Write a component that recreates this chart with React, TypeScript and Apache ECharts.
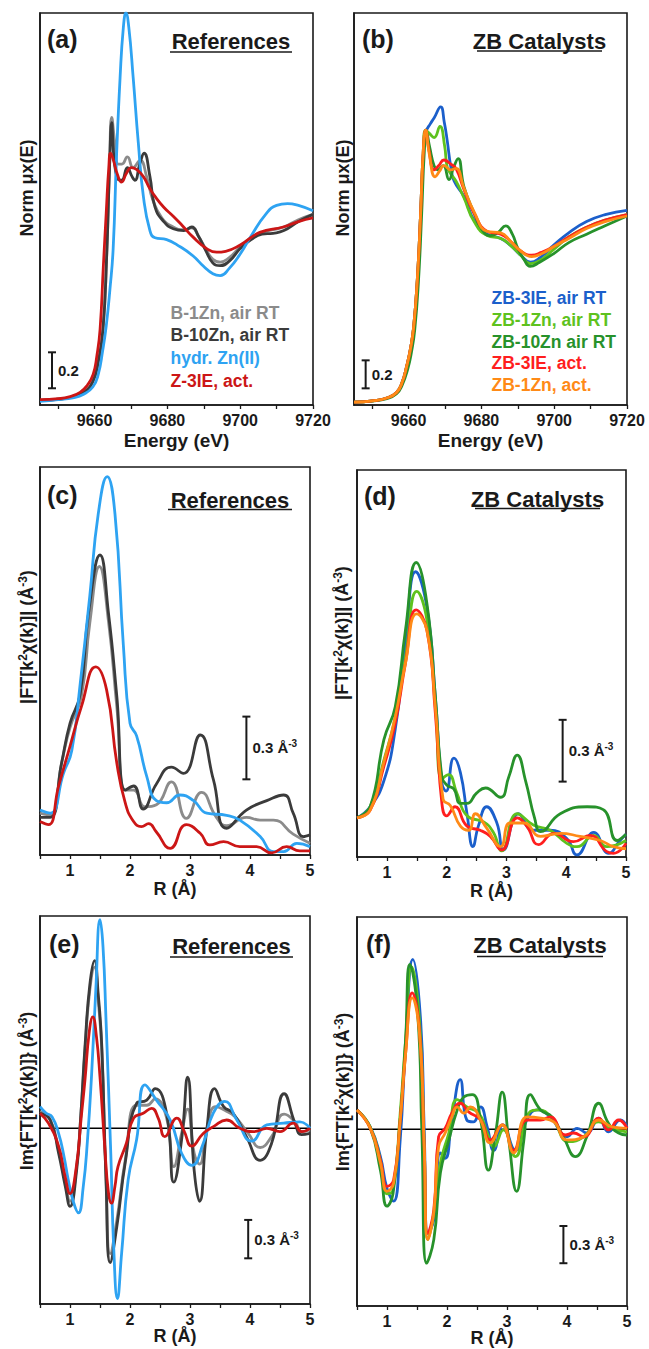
import React, { useEffect, useRef } from 'react';
import * as echarts from 'echarts';

const FONT = 'Arial, "Liberation Sans", Helvetica, sans-serif';
const INK = '#1a1a1a';

// ---------- tick values ----------
const energyTicks = [9650, 9660, 9670, 9680, 9690, 9700, 9710, 9720];
const energyLabels = [9660, 9680, 9700, 9720];
const rTicks = [0.5, 1, 1.5, 2, 2.5, 3, 3.5, 4, 4.5, 5];
const rLabels = [1, 2, 3, 4, 5];

// ---------- (a) XANES references: [E (eV), norm mu] ----------
const xanesB1Zn = [[9645,0.005],[9650,0.012],[9654,0.025],[9657,0.05],[9659.5,0.11],[9661,0.22],[9662.3,0.40],[9663.3,0.80],[9664.1,1.30],[9664.7,1.58],[9665.5,1.45],[9666.5,1.32],[9667.5,1.32],[9669,1.36],[9670.6,1.30],[9672.5,1.34],[9674.3,1.25],[9676,1.12],[9678.5,1.02],[9681.6,0.97],[9684.5,0.955],[9686.7,0.965],[9688.5,0.92],[9690.5,0.85],[9692.5,0.79],[9694.5,0.775],[9697,0.80],[9700,0.86],[9703,0.91],[9706,0.94],[9709,0.955],[9712,0.97],[9716,1.01],[9720,1.04]];
const xanesB10Zn = [[9645,0.005],[9650,0.012],[9654,0.025],[9657,0.05],[9659.5,0.11],[9661,0.22],[9662.3,0.40],[9663.3,0.80],[9664.1,1.30],[9664.7,1.55],[9665.3,1.36],[9666.3,1.24],[9667.4,1.23],[9669,1.30],[9670.3,1.25],[9671.1,1.23],[9672.4,1.32],[9673.6,1.38],[9675.2,1.25],[9676.6,1.08],[9679,1.0],[9681.6,0.96],[9684.5,0.95],[9686.7,0.97],[9688.5,0.92],[9690.5,0.84],[9692.5,0.77],[9694.5,0.755],[9697,0.78],[9700,0.85],[9703,0.90],[9706,0.93],[9709,0.935],[9712,0.95],[9716,1.0],[9720,1.04]];
const xanesHydrZn = [[9645,0.0],[9650,0.01],[9654,0.02],[9657,0.04],[9659.5,0.08],[9661,0.15],[9662.2,0.28],[9663.2,0.42],[9664.2,0.62],[9665.1,0.85],[9666,1.35],[9667,1.80],[9667.9,2.08],[9668.6,2.16],[9669.4,2.08],[9670.6,1.80],[9672,1.44],[9673.4,1.14],[9675.2,0.95],[9676.6,0.91],[9679.8,0.90],[9683.5,0.86],[9687,0.81],[9690,0.75],[9692.5,0.71],[9694.5,0.70],[9697,0.74],[9700,0.82],[9703,0.92],[9707,1.04],[9710,1.09],[9713,1.10],[9716,1.09],[9720,1.06]];
const xanesZ3IE = [[9645,0.01],[9650,0.015],[9653,0.025],[9656,0.05],[9658,0.09],[9659.6,0.15],[9660.6,0.25],[9661.5,0.40],[9662.4,0.75],[9663.2,1.05],[9663.9,1.30],[9664.4,1.38],[9665.2,1.34],[9666.3,1.26],[9667.4,1.22],[9668.8,1.27],[9670.1,1.30],[9671.5,1.29],[9673.4,1.25],[9675,1.19],[9676.6,1.14],[9679,1.08],[9681.6,1.03],[9684,0.98],[9687,0.915],[9690.8,0.85],[9693.5,0.83],[9696,0.835],[9700,0.87],[9705.4,0.94],[9711.8,0.97],[9716,1.0],[9720,1.02]];

// ---------- (b) XANES ZB catalysts ----------
const xanesZB3IEair = [[9645,0],[9650,0.01],[9654,0.03],[9656.7,0.07],[9658.2,0.14],[9659.5,0.26],[9660.5,0.38],[9661.4,0.54],[9662.4,0.88],[9663.3,1.35],[9664,1.75],[9664.8,1.93],[9666,1.99],[9667,2.03],[9668.8,2.11],[9669.8,2.0],[9670.6,1.87],[9671.6,1.68],[9672.5,1.58],[9675.2,1.47],[9678,1.30],[9681.6,1.20],[9685.3,1.17],[9688,1.12],[9690.8,1.05],[9693.5,1.00],[9696,1.03],[9699.8,1.12],[9704,1.21],[9708.9,1.29],[9714,1.34],[9720,1.37]];
const xanesZB1Znair = [[9645,0],[9650,0.01],[9654,0.03],[9656.7,0.07],[9658.2,0.14],[9659.5,0.26],[9660.5,0.38],[9661.4,0.54],[9662.4,0.88],[9663.3,1.35],[9664,1.78],[9664.7,1.944],[9665.7,1.92],[9667,1.89],[9668.6,1.97],[9669.9,1.83],[9670.6,1.68],[9671.6,1.63],[9673,1.58],[9675.2,1.46],[9678,1.29],[9681.6,1.19],[9685.3,1.17],[9688,1.12],[9690.8,1.05],[9693.5,0.99],[9696,1.01],[9699.8,1.09],[9704,1.18],[9708.9,1.25],[9714,1.30],[9720,1.34]];
const xanesZB10Znair = [[9645,0],[9650,0.008],[9654,0.025],[9656.7,0.06],[9658.2,0.12],[9659.8,0.24],[9660.8,0.36],[9661.7,0.52],[9662.7,0.86],[9663.6,1.35],[9664.3,1.78],[9664.9,1.93],[9665.8,1.82],[9667,1.69],[9668,1.66],[9669.5,1.69],[9671.1,1.59],[9672.4,1.68],[9673.6,1.74],[9675.2,1.54],[9678,1.35],[9680,1.24],[9682.4,1.19],[9684.5,1.21],[9686.7,1.26],[9688.5,1.20],[9690,1.10],[9691.7,1.02],[9693.4,0.97],[9696,1.0],[9699.8,1.06],[9704,1.14],[9708.9,1.20],[9714,1.26],[9720,1.33]];
const xanesZB3IEact = [[9645,0],[9650,0.01],[9654,0.03],[9656.7,0.07],[9658.2,0.14],[9659.5,0.26],[9660.5,0.38],[9661.4,0.54],[9662.4,0.88],[9663.3,1.35],[9664,1.78],[9664.7,1.944],[9665.6,1.80],[9667,1.66],[9668.3,1.69],[9669.7,1.73],[9671.6,1.70],[9673,1.67],[9675.2,1.52],[9678,1.35],[9681.6,1.22],[9685.3,1.20],[9688,1.15],[9690.8,1.08],[9693.8,1.05],[9696.5,1.07],[9699.8,1.11],[9704,1.18],[9708.9,1.25],[9714,1.30],[9720,1.34]];
const xanesZB1Znact = [[9645,0],[9650,0.01],[9654,0.03],[9656.7,0.07],[9658.2,0.14],[9659.5,0.26],[9660.5,0.38],[9661.4,0.54],[9662.4,0.88],[9663.3,1.35],[9664,1.78],[9664.7,1.944],[9665.7,1.77],[9667.3,1.61],[9668.5,1.65],[9669.7,1.69],[9671.6,1.66],[9673,1.67],[9675.2,1.53],[9678,1.36],[9681.6,1.22],[9685.3,1.21],[9688,1.15],[9690.8,1.08],[9693.8,1.04],[9696.5,1.06],[9699.8,1.11],[9704,1.17],[9708.9,1.24],[9714,1.29],[9720,1.33]];

// ---------- (c) |FT| references: [R (Å), magnitude] ----------
const ftB1Zn = [[0.5,0.20],[0.67,0.19],[0.86,0.44],[1.0,0.61],[1.19,0.76],[1.33,1.11],[1.49,1.38],[1.64,1.12],[1.78,0.71],[1.92,0.31],[2.06,0.31],[2.25,0.23],[2.44,0.24],[2.69,0.35],[2.94,0.175],[3.19,0.30],[3.44,0.18],[3.61,0.14],[3.94,0.18],[4.17,0.167],[4.39,0.167],[4.72,0.10],[5.0,0.056]];
const ftB10Zn = [[0.5,0.18],[0.67,0.18],[0.86,0.44],[1.0,0.63],[1.17,0.77],[1.31,1.16],[1.5,1.435],[1.64,1.16],[1.78,0.76],[1.92,0.31],[2.06,0.33],[2.22,0.22],[2.44,0.34],[2.69,0.42],[2.89,0.39],[3.17,0.574],[3.39,0.36],[3.61,0.128],[3.94,0.215],[4.28,0.26],[4.56,0.287],[4.72,0.20],[4.89,0.088],[5.0,0.096]];
const ftHydrZn = [[0.5,0.215],[0.67,0.20],[0.89,0.39],[1.03,0.50],[1.17,0.82],[1.33,1.24],[1.47,1.63],[1.62,1.81],[1.75,1.63],[1.89,1.0],[2.0,0.63],[2.11,0.57],[2.28,0.375],[2.44,0.26],[2.61,0.25],[2.83,0.287],[3.06,0.26],[3.28,0.20],[3.61,0.19],[3.83,0.167],[4.17,0.088],[4.39,0.016],[4.56,0.016],[4.78,0.056],[5.0,0.04]];
const ftZ3IE = [[0.5,0.16],[0.64,0.145],[0.81,0.33],[1.0,0.52],[1.19,0.71],[1.43,0.90],[1.61,0.79],[1.78,0.44],[1.92,0.25],[2.06,0.16],[2.19,0.136],[2.31,0.15],[2.44,0.11],[2.67,0.032],[2.94,0.145],[3.17,0.104],[3.33,0.048],[3.56,0.064],[3.83,0.04],[4.11,0.04],[4.36,0.01],[4.61,0.04],[4.83,0.02],[5.0,0.02]];

// ---------- (d) |FT| ZB catalysts ----------
const ftZB3IEair = [[0.5,0.19],[0.72,0.244],[0.95,0.37],[1.14,0.62],[1.31,1.03],[1.48,1.385],[1.67,1.21],[1.81,0.78],[1.92,0.36],[1.99,0.32],[2.12,0.48],[2.23,0.41],[2.34,0.21],[2.44,0.05],[2.53,0.15],[2.67,0.244],[2.84,0.165],[2.95,0.034],[3.2,0.21],[3.45,0.13],[3.73,0.13],[4.01,0.09],[4.18,0.01],[4.46,0.12],[4.71,0.018],[4.9,0.08],[5.0,0.11]];
const ftZB1Znair = [[0.5,0.19],[0.72,0.244],[0.95,0.47],[1.14,0.68],[1.31,0.97],[1.50,1.29],[1.67,1.15],[1.81,0.75],[1.92,0.38],[2.03,0.40],[2.17,0.31],[2.34,0.20],[2.62,0.17],[2.78,0.12],[2.92,0.03],[3.18,0.21],[3.45,0.155],[3.73,0.13],[4.01,0.066],[4.18,0.05],[4.46,0.105],[4.68,0.05],[5.0,0.08]];
const ftZB10Znair = [[0.5,0.19],[0.72,0.244],[0.95,0.57],[1.14,0.73],[1.31,1.10],[1.49,1.43],[1.67,1.23],[1.81,0.78],[1.92,0.39],[2.0,0.35],[2.12,0.33],[2.23,0.26],[2.34,0.26],[2.5,0.31],[2.65,0.335],[2.9,0.29],[3.04,0.39],[3.18,0.495],[3.32,0.37],[3.47,0.19],[3.57,0.123],[3.9,0.21],[4.35,0.244],[4.62,0.23],[4.85,0.08],[5.0,0.11]];
const ftZB3IEact = [[0.5,0.19],[0.72,0.228],[0.95,0.44],[1.14,0.65],[1.31,0.94],[1.49,1.20],[1.67,1.10],[1.81,0.70],[1.92,0.26],[2.0,0.20],[2.14,0.244],[2.34,0.15],[2.56,0.13],[2.73,0.10],[2.92,0.034],[3.18,0.19],[3.34,0.15],[3.54,0.06],[3.79,0.115],[4.12,0.075],[4.40,0.105],[4.68,0.026],[4.79,0.018],[5.0,0.066]];
const ftZB1Znact = [[0.5,0.19],[0.72,0.228],[0.95,0.46],[1.14,0.68],[1.31,0.94],[1.50,1.18],[1.67,1.10],[1.81,0.73],[1.94,0.28],[2.06,0.25],[2.23,0.15],[2.37,0.13],[2.48,0.21],[2.67,0.14],[2.90,0.05],[3.06,0.165],[3.29,0.165],[3.57,0.10],[3.90,0.115],[4.23,0.10],[4.57,0.08],[4.79,0.05],[5.0,0.04]];

// ---------- (e) Im FT references ----------
const imB1Zn = [[0.5,0.13],[0.67,0.07],[0.81,-0.17],[0.92,-0.42],[1.0,-0.57],[1.11,-0.30],[1.18,0.1],[1.25,0.61],[1.33,1.08],[1.41,1.26],[1.47,1.0],[1.53,0.61],[1.6,-0.38],[1.67,-0.98],[1.78,-0.72],[1.92,-0.25],[2.11,0.18],[2.28,0.18],[2.42,0.23],[2.61,0.08],[2.73,-0.30],[2.86,-0.04],[2.96,0.15],[3.07,-0.195],[3.16,-0.28],[3.28,-0.01],[3.43,0.17],[3.58,0.14],[3.75,0.09],[3.97,-0.04],[4.17,-0.15],[4.36,-0.065],[4.57,0.11],[4.75,0.05],[4.86,-0.026],[5.0,-0.013]];
const imB10Zn = [[0.5,0.117],[0.67,0.065],[0.81,-0.195],[0.92,-0.45],[1.0,-0.61],[1.11,-0.33],[1.18,0.1],[1.25,0.64],[1.33,1.12],[1.41,1.31],[1.47,1.05],[1.53,0.64],[1.6,-0.40],[1.67,-1.05],[1.78,-0.77],[1.92,-0.27],[2.11,0.195],[2.28,0.22],[2.42,0.31],[2.61,0.117],[2.73,-0.42],[2.86,-0.09],[2.96,0.40],[3.07,-0.33],[3.16,-0.57],[3.28,-0.01],[3.41,0.31],[3.56,0.17],[3.72,0.117],[3.94,-0.065],[4.17,-0.25],[4.36,-0.117],[4.57,0.27],[4.75,0.04],[4.86,-0.05],[5.0,-0.04]];
const imHydrZn = [[0.5,0.17],[0.6,0.12],[0.7,0.09],[0.81,-0.04],[0.9,-0.22],[0.97,-0.40],[1.06,-0.58],[1.14,-0.66],[1.22,-0.46],[1.29,-0.10],[1.36,0.42],[1.43,1.08],[1.5,1.63],[1.55,1.42],[1.6,0.85],[1.68,-0.2],[1.73,-0.95],[1.79,-1.33],[1.86,-0.98],[1.97,-0.40],[2.11,-0.09],[2.25,0.34],[2.44,0.22],[2.67,0.065],[2.86,-0.195],[3.03,-0.29],[3.22,-0.12],[3.39,0.12],[3.58,0.21],[3.78,0.065],[4.03,-0.10],[4.28,0.026],[4.56,0.04],[4.83,0.05],[5.0,0.0]];
const imZ3IE = [[0.5,0.117],[0.64,0.04],[0.81,-0.14],[0.92,-0.38],[1.0,-0.51],[1.1,-0.32],[1.19,0.1],[1.25,0.38],[1.32,0.75],[1.38,0.87],[1.44,0.72],[1.5,0.40],[1.58,-0.15],[1.64,-0.50],[1.69,-0.585],[1.75,-0.45],[1.8,-0.30],[1.94,-0.117],[2.06,0.08],[2.22,0.117],[2.36,0.156],[2.47,0.08],[2.58,-0.065],[2.78,0.08],[2.9,-0.02],[3.03,-0.14],[3.22,-0.04],[3.39,0.013],[3.61,0.065],[3.83,0.0],[4.06,-0.026],[4.28,0.0],[4.5,-0.026],[4.72,0.04],[4.86,-0.026],[5.0,0.0]];

// ---------- (f) Im FT ZB catalysts ----------
const imZB3IEair = [[0.5,0.156],[0.72,0.02],[0.89,-0.22],[1.0,-0.476],[1.11,-0.58],[1.22,-0.086],[1.31,0.67],[1.43,1.37],[1.56,0.88],[1.62,-0.005],[1.68,-0.84],[1.78,-0.73],[1.89,-0.19],[1.97,-0.234],[2.08,0.075],[2.22,0.40],[2.33,0.075],[2.44,0.06],[2.56,0.18],[2.67,0.02],[2.78,-0.17],[2.93,0.035],[3.14,-0.17],[3.33,0.075],[3.5,0.156],[3.72,0.10],[4.0,-0.06],[4.17,0.008],[4.33,-0.03],[4.53,0.09],[4.69,-0.02],[4.89,0.075],[5.0,0.02]];
const imZB1Znair = [[0.5,0.156],[0.72,0.02],[0.89,-0.25],[1.0,-0.52],[1.1,-0.49],[1.22,0.13],[1.31,0.72],[1.41,1.31],[1.54,0.88],[1.62,-0.14],[1.68,-0.89],[1.78,-0.68],[1.89,-0.27],[2.03,-0.03],[2.17,0.24],[2.33,0.18],[2.53,0.13],[2.67,-0.03],[2.78,-0.14],[2.94,-0.005],[3.14,-0.22],[3.36,0.13],[3.53,0.156],[3.75,0.09],[4.03,-0.10],[4.28,-0.06],[4.53,0.06],[4.72,0.008],[5.0,-0.02]];
const imZB10Znair = [[0.5,0.156],[0.72,0.01],[0.89,-0.33],[1.0,-0.62],[1.1,-0.52],[1.22,0.075],[1.31,0.72],[1.38,1.33],[1.51,0.94],[1.58,-0.005],[1.66,-1.08],[1.78,-0.89],[1.89,-0.35],[2.03,-0.09],[2.17,0.156],[2.28,0.26],[2.42,0.28],[2.56,0.075],[2.69,-0.33],[2.81,-0.03],[2.92,0.30],[3.03,-0.09],[3.16,-0.50],[3.28,-0.09],[3.39,0.28],[3.56,0.156],[3.75,0.10],[3.94,-0.06],[4.14,-0.22],[4.33,-0.06],[4.53,0.21],[4.69,0.05],[4.86,-0.03],[5.0,-0.046]];
const imZB3IEact = [[0.5,0.156],[0.72,0.01],[0.89,-0.25],[1.0,-0.46],[1.11,-0.41],[1.22,0.075],[1.31,0.61],[1.42,1.10],[1.54,0.80],[1.62,-0.14],[1.68,-0.84],[1.78,-0.65],[1.86,-0.06],[1.97,0.008],[2.08,0.13],[2.22,0.21],[2.36,0.14],[2.56,0.075],[2.72,-0.086],[2.92,0.035],[3.11,-0.17],[3.33,0.075],[3.56,0.075],[3.72,0.10],[3.97,-0.046],[4.11,-0.03],[4.28,-0.06],[4.53,0.09],[4.69,-0.005],[4.86,0.075],[5.0,0.008]];
const imZB1Znact = [[0.5,0.156],[0.72,0.01],[0.89,-0.27],[1.0,-0.50],[1.11,-0.435],[1.22,0.075],[1.31,0.61],[1.42,1.06],[1.54,0.78],[1.62,-0.14],[1.68,-0.89],[1.78,-0.67],[1.86,-0.14],[1.97,-0.03],[2.08,0.10],[2.17,0.18],[2.28,0.13],[2.39,0.18],[2.56,0.075],[2.72,-0.11],[2.92,0.035],[3.11,-0.19],[3.33,0.10],[3.56,0.09],[3.78,0.06],[4.0,-0.086],[4.28,-0.06],[4.53,0.075],[4.75,0.02],[5.0,0.008]];

// zero reference line for Im panels
const zeroLine = [[0.5, 0], [5, 0]];

// scale bars: [panel, x, y0, length, label]
const scaleBars: [number, number, number, number, string][] = [
  [0, 9648.3, 0.073, 0.2, '0.2'],
  [1, 9648.2, 0.099, 0.2, '0.2'],
  [2, 3.94, 0.362, 0.3, '0.3 Å{s|-3}'],
  [3, 3.94, 0.366, 0.3, '0.3 Å{s|-3}'],
  [4, 3.97, -1.016, 0.3, '0.3 Å{s|-3}'],
  [5, 3.94, -1.08, 0.3, '0.3 Å{s|-3}'],
];

const COL = {
  ltGray: '#8b8b8b', dkGray: '#3b3b3b', sky: '#2ea3f2', dkRed: '#cc1616',
  blue: '#1b5fcb', ltGreen: '#5ec21e', dkGreen: '#27922b', red: '#ff1e1e', orange: '#ff8a17',
};

const refNames = ['B-1Zn, air RT', 'B-10Zn, air RT', 'hydr. Zn(II)', 'Z-3IE, act.'];
const refColors = [COL.ltGray, COL.dkGray, COL.sky, COL.dkRed];
const zbNames = ['ZB-3IE, air RT', 'ZB-1Zn, air RT', 'ZB-10Zn air RT', 'ZB-3IE, act.', 'ZB-1Zn, act.'];
const zbColors = [COL.blue, COL.ltGreen, COL.dkGreen, COL.red, COL.orange];

const GRIDS = [
  { left: 40, top: 13, width: 273, height: 392 },
  { left: 354, top: 13, width: 273, height: 392 },
  { left: 40, top: 467, width: 270, height: 388 },
  { left: 357, top: 470, width: 269, height: 387 },
  { left: 40, top: 916, width: 270, height: 388 },
  { left: 357, top: 917, width: 270, height: 389 },
];
const Y_RANGE = [[-0.02, 2.16], [-0.02, 2.78], [0, 1.856], [0, 1.879], [-1.373, 1.659], [-1.425, 1.712]];

function lineSeries(name: string, data: number[][], color: string, idx: number, z: number) {
  return {
    type: 'line', name, data, xAxisIndex: idx, yAxisIndex: idx,
    showSymbol: false, symbol: 'none', smooth: 0.5,
    lineStyle: { color, width: 2.8 }, itemStyle: { color }, z, silent: true, clip: true,
  };
}

function scaleBarSeries(bar: [number, number, number, number, string]) {
  const [idx, x, y0, len, label] = bar;
  return {
    type: 'custom', xAxisIndex: idx, yAxisIndex: idx, silent: true, z: 20,
    data: [[x, y0, y0 + len]],
    renderItem: (_p: any, api: any) => {
      const a = api.coord([api.value(0), api.value(1)]);
      const b = api.coord([api.value(0), api.value(2)]);
      const st = { stroke: INK, lineWidth: 2 };
      return {
        type: 'group',
        children: [
          { type: 'line', shape: { x1: a[0], y1: a[1], x2: b[0], y2: b[1] }, style: st },
          { type: 'line', shape: { x1: a[0] - 4, y1: a[1], x2: a[0] + 4, y2: a[1] }, style: st },
          { type: 'line', shape: { x1: b[0] - 4, y1: b[1], x2: b[0] + 4, y2: b[1] }, style: st },
          {
            type: 'text', x: a[0] + 6, y: (a[1] + b[1]) / 2,
            style: {
              text: label, fill: INK, fontFamily: FONT, fontWeight: 'bold', fontSize: 15,
              lineHeight: 18, align: 'left', verticalAlign: 'middle',
              rich: { s: { fontSize: 10, fontWeight: 'bold', fontFamily: FONT, fill: INK, color: INK, lineHeight: 11, verticalAlign: 'top' } },
            },
          },
        ],
      };
    },
  };
}

function txt(x: number, y: number, text: string, opts: any = {}) {
  const { rotation, rich, ...st } = opts;
  return {
    type: 'text', x, y, rotation: rotation || 0, silent: true, z: 50,
    style: {
      text, fill: INK, fontFamily: FONT, fontWeight: 'bold', fontSize: 16,
      align: 'left', verticalAlign: 'middle', textAlign: 'left', textVerticalAlign: 'middle',
      rich, ...st,
    },
  };
}

function uline(x1: number, x2: number, y: number) {
  return { type: 'line', silent: true, z: 50, shape: { x1, y1: y, x2, y2: y }, style: { stroke: INK, lineWidth: 1.6 } };
}

const supRich = { s: { fontSize: 12, fontWeight: 'bold', fontFamily: FONT, fill: INK, color: INK, lineHeight: 12, verticalAlign: 'top' } };

export default function App() {
  const ref = useRef<HTMLDivElement>(null);
  useEffect(() => {
    if (!ref.current) return;
    const chart = echarts.init(ref.current, undefined, { renderer: 'svg' });

    const grid = GRIDS.map((g) => ({
      ...g, show: true, borderColor: INK, borderWidth: 1.6, backgroundColor: 'transparent',
      containLabel: false, outerBoundsMode: 'none',
    }));

    const xAxis = GRIDS.map((_, i) => {
      const energy = i < 2;
      const bottomRow = i >= 4;
      return {
        type: 'value', gridIndex: i,
        min: energy ? 9645 : 0.5, max: energy ? 9720 : 5,
        axisLine: { show: true, onZero: false, lineStyle: { color: INK, width: 1.6 } },
        axisTick: { show: true, customValues: energy ? energyTicks : rTicks, length: 4, lineStyle: { color: INK, width: 1.3 } },
        axisLabel: {
          show: true, customValues: energy ? energyLabels : rLabels, color: INK, fontFamily: FONT,
          fontWeight: 'bold', fontSize: 16, margin: 7, formatter: (v: number) => String(v),
        },
        splitLine: { show: false },
        name: energy ? 'Energy (eV)' : 'R (Å)', nameLocation: 'middle',
        nameGap: energy ? 26 : bottomRow ? 23 : 25, nameMoveOverlap: false,
        nameTextStyle: { color: INK, fontFamily: FONT, fontWeight: 'bold', fontSize: energy ? 19 : 18, lineHeight: 18 },
      };
    });

    const yAxis = GRIDS.map((_, i) => ({
      type: 'value', gridIndex: i, min: Y_RANGE[i][0], max: Y_RANGE[i][1],
      axisLine: { show: true, onZero: false, lineStyle: { color: INK, width: 1.6 } },
      axisTick: { show: false }, axisLabel: { show: false }, splitLine: { show: false },
    }));

    const series: any[] = [];
    const refSets = [
      [xanesB1Zn, xanesB10Zn, xanesHydrZn, xanesZ3IE],
      [ftB1Zn, ftB10Zn, ftHydrZn, ftZ3IE],
      [imB1Zn, imB10Zn, imHydrZn, imZ3IE],
    ];
    const zbSets = [
      [xanesZB3IEair, xanesZB1Znair, xanesZB10Znair, xanesZB3IEact, xanesZB1Znact],
      [ftZB3IEair, ftZB1Znair, ftZB10Znair, ftZB3IEact, ftZB1Znact],
      [imZB3IEair, imZB1Znair, imZB10Znair, imZB3IEact, imZB1Znact],
    ];
    [4, 5].forEach((i) => {
      series.push({
        type: 'line', data: zeroLine, xAxisIndex: i, yAxisIndex: i, showSymbol: false, symbol: 'none',
        lineStyle: { color: '#000', width: 1.6 }, z: 1, silent: true,
      });
    });
    refSets.forEach((set, row) => {
      set.forEach((d, k) => series.push(lineSeries(refNames[k], d, refColors[k], row * 2, 2 + k)));
    });
    zbSets.forEach((set, row) => {
      set.forEach((d, k) => series.push(lineSeries(zbNames[k], d, zbColors[k], row * 2 + 1, 2 + k)));
    });
    scaleBars.forEach((b) => series.push(scaleBarSeries(b)));

    const graphics: any[] = [];
    const letters: [string, number, number][] = [
      ['(a)', 47, 39], ['(b)', 362, 39], ['(c)', 47, 495], ['(d)', 364, 496], ['(e)', 49, 944], ['(f)', 366, 944],
    ];
    letters.forEach(([t, x, y]) => graphics.push(txt(x, y, t, { fontSize: 25 })));
    const titles: [string, number, number, number, number, number][] = [
      ['References', 231, 41.5, 170, 292, 52],
      ['ZB Catalysts', 539.5, 41.5, 477, 602, 51],
      ['References', 230, 500, 168, 292, 509.5],
      ['ZB Catalysts', 537.5, 499.5, 475, 600, 508.5],
      ['References', 231.5, 946.5, 170, 293, 957],
      ['ZB Catalysts', 540, 945.5, 477, 603, 956.5],
    ];
    titles.forEach(([t, cx, cy, x1, x2, uy]) => {
      graphics.push(txt(cx, cy, t, { fontSize: 22, align: 'center', textAlign: 'center' }));
      graphics.push(uline(x1, x2, uy));
    });
    const refLegendY = [313, 335, 358, 381];
    refNames.forEach((n, k) => graphics.push(txt(170.5, refLegendY[k], n, { fontSize: 17.5, fill: refColors[k] })));
    const zbLegendY = [298, 320, 341.5, 363, 385];
    zbNames.forEach((n, k) => graphics.push(txt(491.5, zbLegendY[k], n, { fontSize: 17.5, fill: zbColors[k] })));
    const yNames: [string, number, number][] = [
      ['Norm μx(E)', 27, 188], ['Norm μx(E)', 343, 188],
      ['|FT[k{s|2}χ(k)]| (Å{s|-3})', 27, 637], ['|FT[k{s|2}χ(k)]| (Å{s|-3})', 342, 633],
      ['Im{FT[k{s|2}χ(k)]} (Å{s|-3})', 27, 1091], ['Im{FT[k{s|2}χ(k)]} (Å{s|-3})', 343, 1092],
    ];
    yNames.forEach(([t, x, y]) => graphics.push(txt(x, y, t, {
      fontSize: 18, lineHeight: 20, rotation: Math.PI / 2, align: 'center', textAlign: 'center', rich: supRich,
    })));

    chart.setOption({
      animation: false,
      backgroundColor: '#ffffff',
      textStyle: { fontFamily: FONT },
      grid, xAxis, yAxis, series, graphic: graphics,
    });
    return () => chart.dispose();
  }, []);

  return <div ref={ref} style={{ position: 'absolute', left: 0, top: 0, width: 649, height: 1349 }} />;
}
